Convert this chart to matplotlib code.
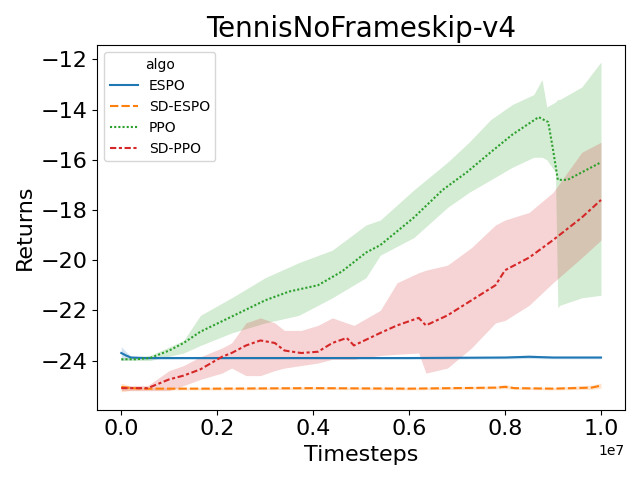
import matplotlib
matplotlib.use("Agg")
import matplotlib.pyplot as plt
import numpy as np

# timesteps in units of 1e7
espo_x = [0.0, 0.01, 0.02, 0.05, 0.2, 0.4, 0.6, 0.8, 0.85, 0.9, 1.0]
espo_mean = [-23.7, -23.8, -23.88, -23.9, -23.9, -23.9, -23.9, -23.88, -23.85, -23.88, -23.88]
espo_lo = [-24.0, -23.95, -23.95, -23.95, -23.95, -23.95, -23.95, -23.93, -23.92, -23.93, -23.93]
espo_hi = [-23.45, -23.65, -23.82, -23.85, -23.85, -23.86, -23.86, -23.83, -23.78, -23.83, -23.83]

sdespo_x = [0.0, 0.02, 0.05, 0.2, 0.4, 0.6, 0.78, 0.8, 0.82, 0.9, 0.98, 1.0]
sdespo_mean = [-25.05, -25.1, -25.12, -25.12, -25.1, -25.12, -25.08, -25.05, -25.1, -25.12, -25.08, -25.0]
sdespo_lo = [-25.25, -25.18, -25.17, -25.17, -25.15, -25.17, -25.13, -25.12, -25.15, -25.17, -25.15, -25.1]
sdespo_hi = [-24.9, -25.03, -25.07, -25.07, -25.05, -25.07, -25.02, -24.95, -25.05, -25.07, -24.98, -24.9]

ppo_x = [0.0, 0.03, 0.06, 0.1, 0.13, 0.165, 0.23, 0.3, 0.35, 0.41, 0.46, 0.51, 0.54,
         0.61, 0.67, 0.72, 0.77, 0.815, 0.87, 0.89, 0.9, 0.91, 0.93, 1.0]
ppo_mean = [-23.95, -23.95, -23.9, -23.6, -23.3, -22.85, -22.25, -21.6, -21.25, -21.0, -20.45,
            -19.7, -19.4, -18.3, -17.2, -16.5, -15.7, -15.0, -14.3, -14.5, -15.6, -16.8, -16.8, -16.1]

ppo_band_x = [0.0, 0.06, 0.13, 0.165, 0.23, 0.3, 0.37, 0.44, 0.51, 0.54, 0.61, 0.68, 0.725,
              0.77, 0.815, 0.86, 0.877, 0.887, 0.905, 0.91, 0.914, 0.96, 1.0]
ppo_lo = [-24.0, -24.0, -23.7, -23.4, -22.9, -22.5, -22.2, -21.5, -20.7, -19.8, -19.1, -17.9, -17.3,
          -16.8, -16.3, -15.9, -15.9, -16.0, -16.5, -21.9, -21.8, -21.5, -21.4]
ppo_hi = [-23.9, -23.8, -23.2, -22.2, -21.5, -20.7, -20.1, -19.6, -18.6, -18.4, -17.2, -16.1, -15.3,
          -14.4, -13.8, -13.4, -12.8, -13.9, -13.7, -13.6, -13.6, -13.1, -12.1]

sdppo_x = [0.0, 0.055, 0.1, 0.13, 0.165, 0.21, 0.23, 0.26, 0.29, 0.32, 0.34, 0.375, 0.41,
           0.44, 0.47, 0.485, 0.54, 0.575, 0.62, 0.635, 0.68, 0.73, 0.78, 0.8, 0.85, 0.9, 0.96, 1.0]
sdppo_mean = [-25.1, -25.1, -24.75, -24.6, -24.35, -23.85, -23.7, -23.4, -23.2, -23.3, -23.6, -23.7, -23.65,
              -23.3, -23.1, -23.4, -22.9, -22.6, -22.3, -22.6, -22.2, -21.6, -21.0, -20.4, -19.9, -19.2,
              -18.3, -17.6]
sdppo_lo = [-25.2, -25.2, -25.2, -25.0, -24.75, -24.5, -24.3, -24.6, -24.6, -24.4, -24.3, -24.2, -24.1,
            -23.95, -23.95, -23.95, -23.8, -23.75, -23.7, -24.5, -24.3, -23.5, -22.5, -22.4, -21.8, -20.9,
            -19.9, -19.2]
sdppo_hi = [-25.0, -25.0, -24.4, -24.2, -23.85, -23.5, -23.3, -22.5, -22.3, -22.5, -22.8, -22.8, -22.6,
            -22.3, -22.5, -22.6, -22.0, -20.9, -20.5, -20.4, -20.2, -19.5, -18.6, -18.4, -18.1, -17.3,
            -15.7, -15.3]

series = [
    ("ESPO", espo_x, espo_mean, espo_x, espo_lo, espo_hi, "#1f77b4", None),
    ("SD-ESPO", sdespo_x, sdespo_mean, sdespo_x, sdespo_lo, sdespo_hi, "#ff7f0e", (4, 1.5)),
    ("PPO", ppo_x, ppo_mean, ppo_band_x, ppo_lo, ppo_hi, "#2ca02c", (1, 1)),
    ("SD-PPO", sdppo_x, sdppo_mean, sdppo_x, sdppo_lo, sdppo_hi, "#d62728", (3, 1.25, 1.5, 1.25)),
]

fig, ax = plt.subplots(figsize=(6.4, 4.8), dpi=100)

for name, xs, m, bx, lo, hi, color, dash in series:
    ax.fill_between(np.asarray(bx) * 1e7, lo, hi, color=color, alpha=0.2, linewidth=0)
    line, = ax.plot(np.asarray(xs) * 1e7, m, color=color, lw=1.5, label=name)
    if dash is not None:
        line.set_dashes(dash)

ax.set_xlim(-0.05e7, 1.05e7)
ax.set_ylim(-25.96, -11.44)
ax.set_yticks([-24, -22, -20, -18, -16, -14, -12])
ax.tick_params(labelsize=16)
ax.xaxis.get_offset_text().set_fontsize(10)
ax.set_xlabel("Timesteps", fontsize=16)
ax.set_ylabel("Returns", fontsize=16)
ax.set_title("TennisNoFrameskip-v4", fontsize=20)
ax.legend(title="algo", loc="upper left", fontsize=10, title_fontsize=10)

fig.tight_layout()
fig.savefig("out.png", dpi=100)
